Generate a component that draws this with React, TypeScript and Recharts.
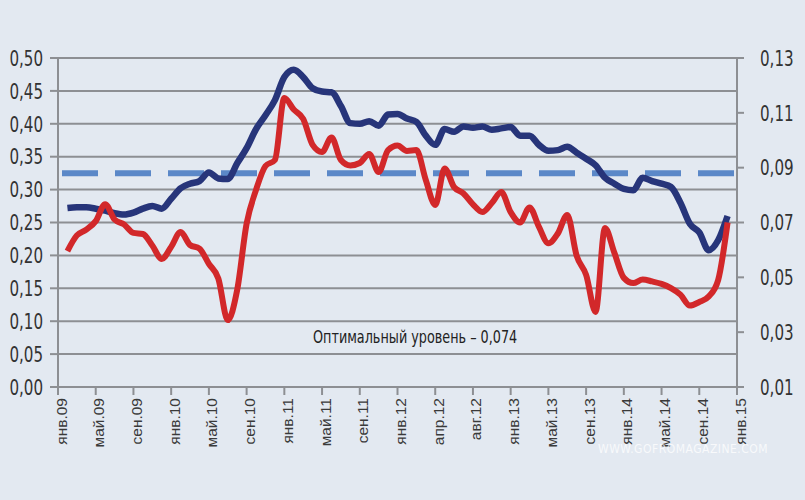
import React from 'react';
import { LineChart, Line, XAxis, YAxis, CartesianGrid, ReferenceLine } from 'recharts';

// подписи оси X (равные интервалы, как на исходном графике)
const periodLabels = [
  'янв.09', 'май.09', 'сен.09', 'янв.10', 'май.10', 'сен.10', 'янв.11', 'май.11', 'сен.11',
  'янв.12', 'апр.12', 'авг.12', 'янв.13', 'май.13', 'сен.13', 'янв.14', 'май.14', 'сен.14', 'янв.15',
];

const leftTicks = [0, 0.05, 0.1, 0.15, 0.2, 0.25, 0.3, 0.35, 0.4, 0.45, 0.5];
const rightTicks = [0.01, 0.03, 0.05, 0.07, 0.09, 0.11, 0.13];

// синяя линия, левая шкала (шаг — четверть интервала между подписями)
const blueSeries = [
  0.272, 0.273, 0.273, 0.271, 0.268, 0.264, 0.262, 0.265, 0.271, 0.275, 0.271, 0.286,
  0.302, 0.309, 0.313, 0.326, 0.317, 0.316, 0.340, 0.363, 0.392, 0.413, 0.436, 0.471,
  0.482, 0.471, 0.454, 0.449, 0.448, 0.427, 0.401, 0.400, 0.404, 0.397, 0.414, 0.415,
  0.408, 0.403, 0.382, 0.368, 0.392, 0.388, 0.396, 0.394, 0.396, 0.391, 0.393, 0.395,
  0.382, 0.382, 0.368, 0.359, 0.360, 0.365, 0.356, 0.347, 0.337, 0.318, 0.309, 0.301,
  0.299, 0.318, 0.313, 0.309, 0.304, 0.280, 0.248, 0.235, 0.208, 0.223, 0.260,
];

// красная линия, правая шкала
const redSeries = [
  0.0596, 0.0653, 0.0674, 0.0705, 0.0767, 0.0711, 0.0693, 0.0662, 0.0658, 0.0616, 0.0567, 0.0611,
  0.0665, 0.0618, 0.0605, 0.0549, 0.0496, 0.0344, 0.0454, 0.0696, 0.0819, 0.0906, 0.0928, 0.1154,
  0.1112, 0.1078, 0.0983, 0.0957, 0.1010, 0.0928, 0.0908, 0.0917, 0.0950, 0.0884, 0.0964, 0.0981,
  0.0961, 0.0964, 0.0855, 0.0764, 0.0897, 0.0829, 0.0806, 0.0766, 0.0738, 0.0771, 0.0811, 0.0738,
  0.0700, 0.0755, 0.0684, 0.0624, 0.0660, 0.0727, 0.0578, 0.0509, 0.0374, 0.0680, 0.0589, 0.0498,
  0.0479, 0.0492, 0.0485, 0.0476, 0.0461, 0.0437, 0.0397, 0.0410, 0.0430, 0.0490, 0.0700,
];

const optimalLevel = 0.325;

const data = blueSeries.map((b, i) => ({ pos: (i + 1) / 4, blue: b, red: redSeries[i] }));

const narrow = "'DejaVu Sans Condensed', 'DejaVu Sans', sans-serif";
const fmt = (v: number) => v.toFixed(2).replace('.', ',');

const PeriodTick = (props: any) => {
  const { x, y, payload } = props;
  return (
    <text
      x={x + 3}
      y={y}
      transform={`rotate(-90 ${x + 3} ${y})`}
      textAnchor="end"
      dominantBaseline="central"
      fontFamily="'Liberation Sans', Arial, sans-serif"
      fontSize={15.5}
      fill="#3a3a3a"
    >
      {periodLabels[payload.value]}
    </text>
  );
};

// узкие цифры шкал
const ValueTick = (props: any) => {
  const { x, y, payload, anchor } = props;
  return (
    <text
      transform={`translate(${x},${y}) scale(0.8,1)`}
      textAnchor={anchor}
      dominantBaseline="central"
      fontFamily={narrow}
      fontSize={21}
      fill="#333"
    >
      {fmt(payload.value)}
    </text>
  );
};

const App = () => {
  return (
    <div style={{ position: 'absolute', left: 0, top: 0, width: 805, height: 500, background: '#e3e9f1' }}>
      <LineChart width={805} height={500} data={data} margin={{ top: 58, right: 8, left: 8, bottom: 53 }}>
        <CartesianGrid yAxisId="left" vertical={false} stroke="#8d8f93" strokeWidth={2} />
        <XAxis
          dataKey="pos"
          type="number"
          domain={[0, 18]}
          ticks={periodLabels.map((_, i) => i)}
          interval={0}
          height={60}
          tick={<PeriodTick />}
          tickSize={8}
          tickMargin={3}
          stroke="#8d8f93"
          strokeWidth={2}
        />
        <YAxis
          yAxisId="left"
          domain={[0, 0.5]}
          ticks={leftTicks}
          interval={0}
          width={50}
          tickSize={8}
          tickMargin={7}
          stroke="#8d8f93"
          strokeWidth={2}
          tick={<ValueTick anchor="end" />}
        />
        <YAxis
          yAxisId="right"
          orientation="right"
          domain={[0.01, 0.13]}
          ticks={rightTicks}
          interval={0}
          width={60}
          tickSize={7}
          tickMargin={16}
          stroke="#8d8f93"
          strokeWidth={2}
          tick={<ValueTick anchor="start" />}
        />
        <ReferenceLine
          yAxisId="left"
          y={optimalLevel}
          stroke="#5b88c8"
          strokeWidth={6}
          strokeDasharray="36 17"
          strokeDashoffset={-4}
        />
        <Line
          yAxisId="left"
          dataKey="blue"
          type="monotone"
          stroke="#27357a"
          strokeWidth={6.5}
          dot={false}
          isAnimationActive={false}
        />
        <Line
          yAxisId="right"
          dataKey="red"
          type="monotone"
          stroke="#d2282a"
          strokeWidth={6}
          dot={false}
          isAnimationActive={false}
        />
      </LineChart>
      <div
        style={{
          position: 'absolute',
          left: 313,
          top: 326,
          fontFamily: narrow,
          fontSize: 18,
          color: '#222',
          whiteSpace: 'nowrap',
          transform: 'scaleX(0.79)',
          transformOrigin: 'left top',
        }}
      >
        Оптимальный уровень – 0,074
      </div>
      <div
        style={{
          position: 'absolute',
          left: 598,
          top: 442,
          fontFamily: narrow,
          fontSize: 12,
          color: 'rgba(255,255,255,0.75)',
          letterSpacing: 0.5,
          whiteSpace: 'nowrap',
        }}
      >
        WWW.GOFROMAGAZINE.COM
      </div>
    </div>
  );
};

export default App;
